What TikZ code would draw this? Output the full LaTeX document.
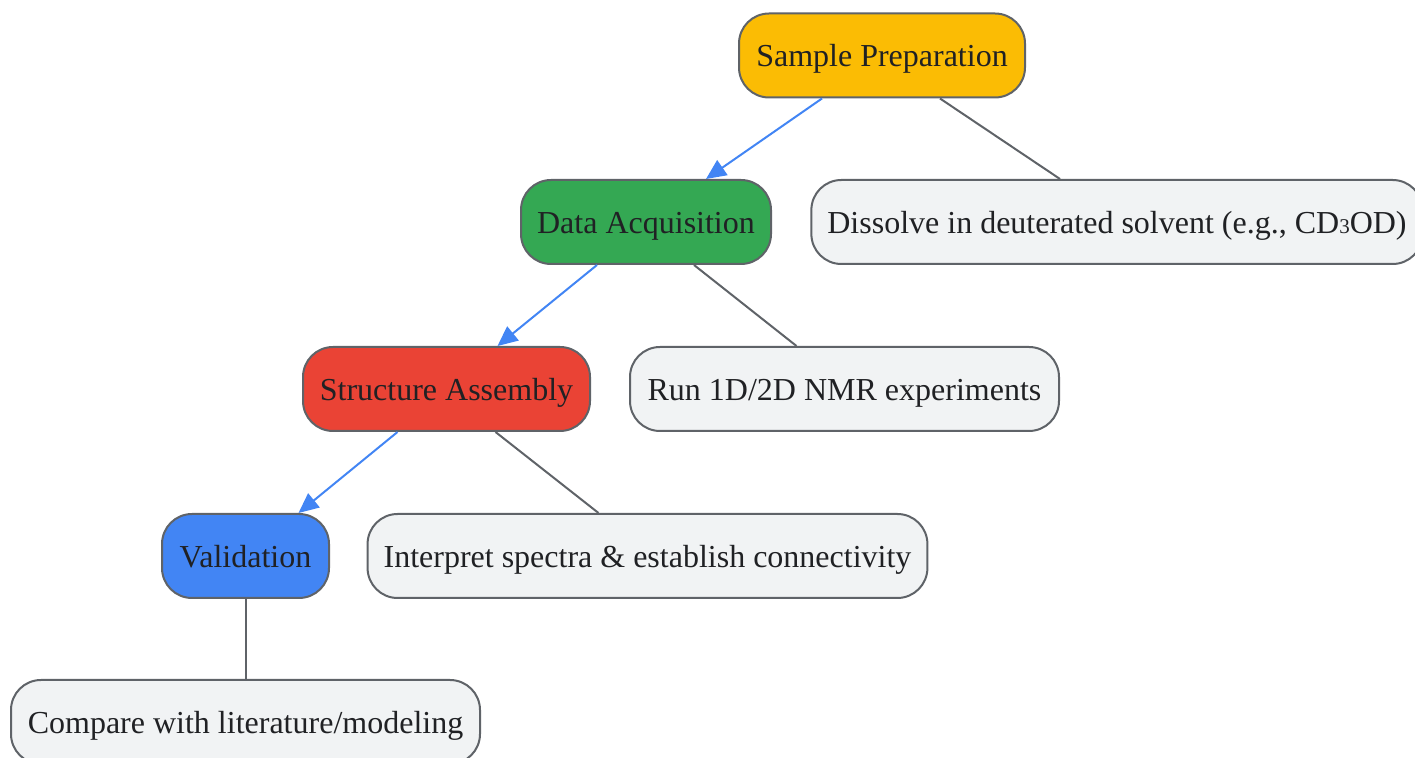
\documentclass[tikz,border=0pt]{standalone}
\usepackage{fontspec}
\setmainfont{Liberation Serif}
\usetikzlibrary{arrows.meta}
\definecolor{cyellow}{HTML}{FBBC04}
\definecolor{cgreen}{HTML}{34A853}
\definecolor{cred}{HTML}{EA4335}
\definecolor{cblue}{HTML}{4285F4}
\definecolor{cgrayfill}{HTML}{F1F3F4}
\definecolor{cborder}{HTML}{5F6368}
\definecolor{ctext}{HTML}{202124}
\tikzset{
  box/.style={draw=cborder, line width=1pt, rounded corners=15pt, minimum height=42pt,
    inner xsep=8pt, text height=14pt, text depth=2.5pt, text=ctext,
    font=\fontsize{16}{19}\selectfont, anchor=center},
  stepnode/.style={box},
  detail/.style={box, fill=cgrayfill},
  flow/.style={draw=cblue, line width=1pt, -{Triangle[length=10pt,width=9pt]}},
  link/.style={draw=cborder, line width=1pt},
}
\begin{document}
\begin{tikzpicture}[x=0.5pt,y=-0.5pt]
\useasboundingbox (0,0) rectangle (1415,758);
\node[stepnode, fill=cyellow, minimum width=143pt] (sp) at (882,55.5) {Sample Preparation};
\node[stepnode, fill=cgreen, minimum width=125pt] (da) at (646,222) {Data Acquisition};
\node[detail, minimum width=304pt] (dis) at (1117,222) {Dissolve in deuterated solvent (e.g., CD{\fontsize{10.5}{12}\selectfont 3}OD)};
\node[stepnode, fill=cred, minimum width=143.5pt] (sa) at (446.5,389) {Structure Assembly};
\node[detail, minimum width=214.5pt] (run) at (844.5,389) {Run 1D/2D NMR experiments};
\node[stepnode, fill=cblue, minimum width=83.5pt] (val) at (245.5,556) {Validation};
\node[detail, minimum width=279.5pt] (int) at (647.5,556) {Interpret spectra \& establish connectivity};
\node[detail, minimum width=234.5pt] (cmp) at (245.5,722) {Compare with literature/modeling};

\draw[flow] ([xshift=-30pt]sp.south) -- ([xshift=30pt]da.north);
\draw[link] ([xshift=29pt]sp.south) -- ([xshift=-28.5pt]dis.north);
\draw[flow] ([xshift=-24.5pt]da.south) -- ([xshift=25.5pt]sa.north);
\draw[link] ([xshift=24pt]da.south) -- ([xshift=-24pt]run.north);
\draw[flow] ([xshift=-24.5pt]sa.south) -- ([xshift=26.5pt]val.north);
\draw[link] ([xshift=24.5pt]sa.south) -- ([xshift=-24.5pt]int.north);
\draw[link] (val.south) -- (cmp.north);
\end{tikzpicture}
\end{document}
